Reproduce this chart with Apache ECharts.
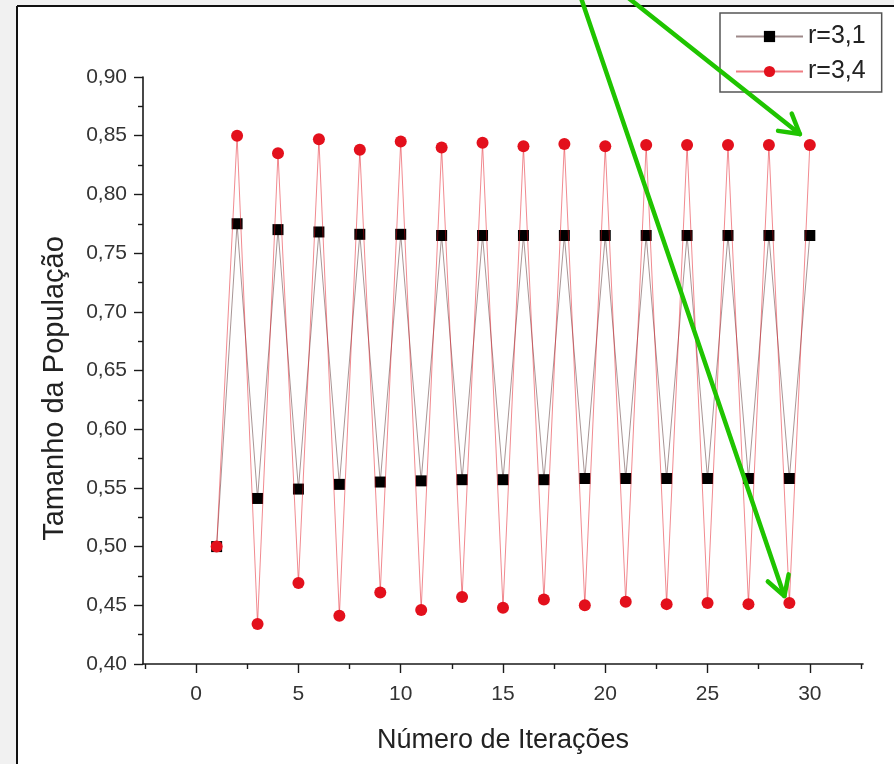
<!DOCTYPE html>
<html>
<head>
<meta charset="utf-8">
<title>Mapa logístico</title>
<script src="https://cdn.jsdelivr.net/npm/echarts@6/dist/echarts.min.js"></script>
<style>
  html, body { margin: 0; padding: 0; background: #ffffff; }
  #chart { width: 894px; height: 764px; }
</style>
</head>
<body>
<div id="chart"></div>
<script>
// Iterations of the logistic map for two growth rates, starting from x = 0.5
const iteracoes = [1, 2, 3, 4, 5, 6, 7, 8, 9, 10, 11, 12, 13, 14, 15,
                   16, 17, 18, 19, 20, 21, 22, 23, 24, 25, 26, 27, 28, 29, 30];

const serieR31 = [0.500, 0.775, 0.541, 0.770, 0.549, 0.768, 0.553, 0.766, 0.555, 0.766,
                  0.556, 0.765, 0.557, 0.765, 0.557, 0.765, 0.557, 0.765, 0.558, 0.765,
                  0.558, 0.765, 0.558, 0.765, 0.558, 0.765, 0.558, 0.765, 0.558, 0.765];

const serieR34 = [0.500, 0.850, 0.434, 0.835, 0.469, 0.847, 0.441, 0.838, 0.461, 0.845,
                  0.446, 0.840, 0.457, 0.844, 0.448, 0.841, 0.455, 0.843, 0.450, 0.841,
                  0.453, 0.842, 0.451, 0.842, 0.452, 0.842, 0.451, 0.842, 0.452, 0.842];

const nomesSeries = ['r=3,1', 'r=3,4'];

const xTicksMaiores = [0, 5, 10, 15, 20, 25, 30];
const xTicksMenores = [-2.5, 2.5, 7.5, 12.5, 17.5, 22.5, 27.5, 32.5];

// Points (iteration, value) marked by the two green arrows
const destaques = [[29, 0.452], [30, 0.842]];

const FONTE = '"Liberation Sans", Arial, Helvetica, sans-serif';
const chart = echarts.init(document.getElementById('chart'), null, { renderer: 'canvas' });

function pares(vals) {
  return iteracoes.map((x, i) => [x, vals[i]]);
}

const option = {
  backgroundColor: '#ffffff',
  animation: false,
  grid: { left: 143, top: 77, width: 720, height: 587, containLabel: false, outerBoundsMode: 'none' },
  legend: {
    orient: 'vertical',
    left: 720,
    top: 13,
    padding: [11, 16, 8, 15],
    itemGap: 10,
    itemWidth: 67,
    itemHeight: 14,
    borderColor: '#555555',
    borderWidth: 1.5,
    backgroundColor: '#ffffff',
    textStyle: { fontFamily: FONTE, fontSize: 25, color: '#222222' },
    data: nomesSeries
  },
  xAxis: [{
    type: 'value',
    min: -2.6,
    max: 32.6,
    position: 'bottom',
    splitLine: { show: false },
    axisLine: { onZero: false, lineStyle: { color: '#1a1a1a', width: 1.6 } },
    axisTick: { show: true, inside: false, length: 9, customValues: xTicksMaiores,
                lineStyle: { color: '#1a1a1a', width: 1.4 } },
    axisLabel: { customValues: xTicksMaiores, margin: 20, fontFamily: FONTE, fontSize: 21, color: '#333333' },
    name: 'Número de Iterações',
    nameLocation: 'middle',
    nameGap: 63,
    nameTextStyle: { fontFamily: FONTE, fontSize: 27, color: '#222222' }
  }, {
    type: 'value',
    min: -2.6,
    max: 32.6,
    position: 'bottom',
    splitLine: { show: false },
    axisLine: { show: false, onZero: false },
    axisTick: { show: true, inside: false, length: 5, customValues: xTicksMenores,
                lineStyle: { color: '#1a1a1a', width: 1.4 } },
    axisLabel: { show: false }
  }],
  yAxis: {
    type: 'value',
    min: 0.4,
    max: 0.9,
    interval: 0.05,
    splitLine: { show: false },
    axisLine: { onZero: false, lineStyle: { color: '#1a1a1a', width: 1.6 } },
    axisTick: { show: true, inside: false, length: 9, lineStyle: { color: '#1a1a1a', width: 1.4 } },
    minorTick: { show: true, splitNumber: 2, length: 5, lineStyle: { color: '#1a1a1a', width: 1.4 } },
    axisLabel: {
      margin: 16,
      fontFamily: FONTE,
      fontSize: 21,
      color: '#333333',
      formatter: v => v.toFixed(2).replace('.', ',')
    },
    name: 'Tamanho da População',
    nameLocation: 'middle',
    nameGap: 74,
    nameRotate: 90,
    nameTextStyle: { fontFamily: FONTE, fontSize: 29, color: '#222222', padding: [0, 36, 0, 0] }
  },
  series: [{
    name: nomesSeries[0],
    type: 'line',
    data: pares(serieR31),
    symbol: 'rect',
    symbolSize: 11,
    itemStyle: { color: '#000000' },
    lineStyle: { color: '#6a4a4a', width: 0.9, opacity: 0.65 },
    z: 2
  }, {
    name: nomesSeries[1],
    type: 'line',
    data: pares(serieR34),
    symbol: 'circle',
    symbolSize: 12,
    itemStyle: { color: '#e3101c' },
    lineStyle: { color: '#e3101c', width: 0.9, opacity: 0.55 },
    z: 3
  }]
};

chart.setOption(option);

// Page frame plus the green arrows pointing at the highlighted points
function seta(alvo, desloc, dir) {
  const p = chart.convertToPixel({ xAxisIndex: 0, yAxisIndex: 0 }, alvo);
  const tip = [p[0] + desloc[0], p[1] + desloc[1]];
  const t = (tip[1] + 10) / -dir[1];
  const ini = [tip[0] + dir[0] * t, tip[1] + dir[1] * t];
  const ang = Math.atan2(tip[1] - ini[1], tip[0] - ini[0]);
  const L = 22, a = Math.PI / 6;
  const b1 = [tip[0] - L * Math.cos(ang - a), tip[1] - L * Math.sin(ang - a)];
  const b2 = [tip[0] - L * Math.cos(ang + a), tip[1] - L * Math.sin(ang + a)];
  const estilo = { stroke: '#1fc400', lineWidth: 4.5, lineCap: 'round', lineJoin: 'round', fill: null };
  return [
    { type: 'line', z: 100, shape: { x1: ini[0], y1: ini[1], x2: tip[0], y2: tip[1] }, style: estilo },
    { type: 'polyline', z: 100, shape: { points: [b1, tip, b2] }, style: estilo }
  ];
}

const graficos = [
  { type: 'rect', z: 50, shape: { x: 0, y: 0, width: 17, height: 764 }, style: { fill: '#f1f1f1' } },
  { type: 'rect', z: 50, shape: { x: 0, y: 0, width: 894, height: 6 }, style: { fill: '#f1f1f1' } },
  { type: 'line', z: 51, shape: { x1: 17, y1: 6, x2: 894, y2: 6 }, style: { stroke: '#111111', lineWidth: 2 } },
  { type: 'line', z: 51, shape: { x1: 17, y1: 6, x2: 17, y2: 764 }, style: { stroke: '#111111', lineWidth: 2 } }
].concat(
  seta(destaques[0], [-5, -7], [-203, -597]),
  seta(destaques[1], [-10, -11], [-170, -135])
);

chart.setOption({ graphic: graficos });
</script>
</body>
</html>
